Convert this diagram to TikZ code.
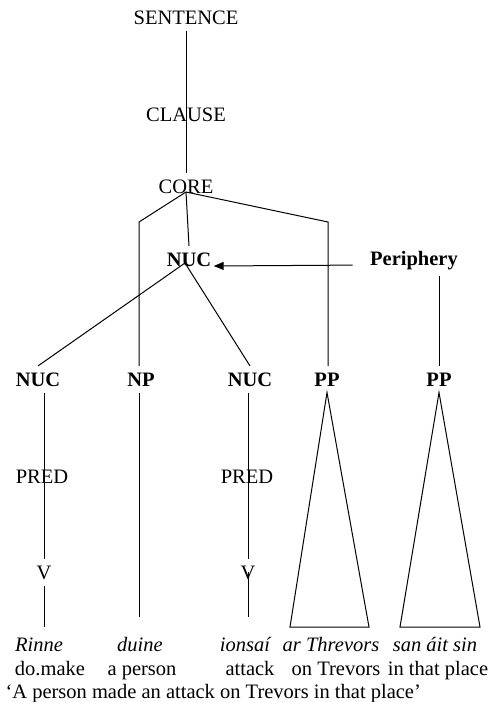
\documentclass[tikz,border=0pt]{standalone}
\usepackage{fontspec}
\setmainfont{Liberation Serif}
\usepackage{tikz}
\usetikzlibrary{arrows.meta}

\begin{document}
\begin{tikzpicture}[x=1pt,y=-1pt,line width=1pt,
  font=\fontsize{20.5}{24}\selectfont,
  lab/.style={anchor=base,inner xsep=2pt,inner ysep=6pt},
  blab/.style={lab,font=\fontsize{20.5}{24}\selectfont\bfseries},
  word/.style={anchor=base,inner sep=0pt}]
\useasboundingbox (0,0) rectangle (493,702);
%Node Coordinates
\node at (186,24) [lab] (Sentence) {SENTENCE};
\node at (186,121) [lab] (Clause) {CLAUSE};
\node at (186,193) [lab] (Core) {CORE};
\node at (189,266) [blab] (Nuc) {NUC};
\node at (414,265) [blab] (Periphery) {Periphery};
\node at (38,386) [blab] (NucA) {NUC};
\node at (141,386) [blab] (NP) {NP};
\node at (250,386) [blab] (NucB) {NUC};
\node at (327,386) [blab] (PPA) {PP};
\node at (439,386) [blab] (PPB) {PP};
\node at (42,483) [lab] (PredA) {PRED};
\node at (247,483) [lab] (PredB) {PRED};
\node at (44,579) [lab] (VA) {V};
\node at (248,579) [lab] (VB) {V};
%Coordinates for forks and ends
\coordinate (CoreFork) at (186,192);
\coordinate (NPBend) at (139,222);
\coordinate (PPBend) at (328,222);
\coordinate (NucFork) at (185,263);
\coordinate (EndA) at (44,627);
\coordinate (EndNP) at (139,617);
\coordinate (EndB) at (248,617);
\coordinate (TriAL) at (290,627);
\coordinate (TriAR) at (369,627);
\coordinate (TriBL) at (400,627);
\coordinate (TriBR) at (480,627);
%Words
\node at (39,651) [word] (WordA) {\itshape Rinne};
\node at (140,651) [word] (WordB) {\itshape duine};
\node at (245,651) [word] (WordC) {\itshape ionsaí};
\node at (331,651) [word] (WordD) {\itshape ar Threvors};
\node at (435,651) [word] (WordE) {\itshape san áit sin};
%Glosses
\node at (50,675) [word] (GlossA) {do.make};
\node at (142,675) [word] (GlossB) {a person};
\node at (250,675) [word] (GlossC) {attack};
\node at (336,675) [word] (GlossD) {on Trevors};
\node at (438,675) [word] (GlossE) {in that place};
\node at (5,698) [word,anchor=base west] (Transl) {‘A person made an attack on Trevors in that place’};
%connections
\draw (Sentence.south) -- (Clause.center);
\draw (Clause.center) -- (Core.north);
\draw (CoreFork) -- (NPBend) -- (NPBend |- NP.north);
\draw (CoreFork) -- (PPBend) -- (PPBend |- PPA.north);
\draw (CoreFork) -- (Nuc.north);
\draw (NucFork) -- (NucA.north);
\draw (NucFork) -- (NucB.north);
\draw [-{Triangle[length=10pt,width=8pt]},shorten <=15pt] (Periphery.base west) -- (Nuc.base east);
\draw (PPB.north |- Periphery.south) -- (PPB.north);
\draw (EndA |- NucA.south) -- (EndA |- VA.north);
\draw (VA.south) -- (EndA);
\draw (NPBend |- NP.south) -- (EndNP);
\draw (EndB |- NucB.south) -- (EndB |- VB.north);
\draw (VB.center) -- (EndB);
% Triangles
\draw (PPA.south) -- (TriAL) -- (TriAR) -- cycle;
\draw (PPB.south) -- (TriBL) -- (TriBR) -- cycle;

\end{tikzpicture}
\end{document}
